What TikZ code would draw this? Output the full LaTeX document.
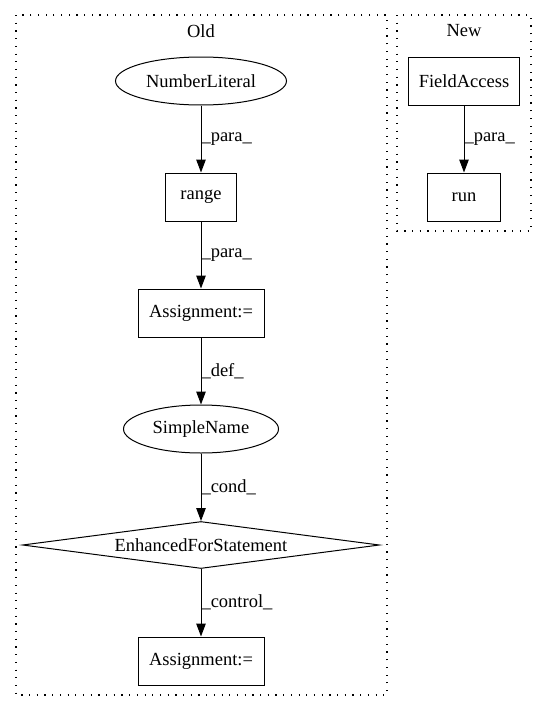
\documentclass[tikz,border=0pt]{standalone}
\usepackage{fontspec}
\setmainfont{Liberation Serif}
\usetikzlibrary{shapes.geometric,arrows.meta}
\begin{document}
\begin{tikzpicture}[x=1pt,y=-1pt,
  every node/.style={font=\fontsize{18.5}{22}\selectfont, inner sep=0pt},
  boxnode/.style={draw, line width=1pt, rectangle, minimum height=48pt},
  ellnode/.style={draw, line width=1pt, ellipse, minimum height=48pt},
  dianode/.style={draw, line width=1pt, diamond, shape aspect=7.6, minimum width=357pt, minimum height=47pt},
  cluster/.style={line width=1.2pt, dash pattern=on 1.2pt off 6.5pt},
  edge/.style={line width=1pt, -{Triangle[length=13pt,width=9.5pt]}},
  elabel/.style={anchor=west, font=\fontsize{18.5}{22}\selectfont}
]
\useasboundingbox (0,0) rectangle (547,712);
% clusters
\draw[cluster] (16,15) rectangle (387,695);
\draw[cluster] (397,15) rectangle (531,231);
\node (oldlbl) at (201,31) {Old};
\node (newlbl) at (464,31) {New};
% Old nodes
\node[ellnode, minimum width=171pt] (nl) at (201,81) {NumberLiteral};
\node[boxnode, minimum width=71pt] (rg) at (201,197) {range};
\node[boxnode, minimum width=126pt] (as1) at (201,313) {Assignment:=};
\node[ellnode, minimum width=155pt] (sn) at (201,429) {SimpleName};
\node[dianode] (efs) at (201,545) {EnhancedForStatement};
\node[boxnode, minimum width=126pt] (as2) at (201,661) {Assignment:=};
% New nodes
\node[boxnode, minimum width=111pt] (fa) at (464,81) {FieldAccess};
\node[boxnode, minimum width=73pt] (run) at (464,197) {run};
% edges
\draw[edge] (nl) -- node[elabel, pos=0.5] (l1) {\_para\_} (rg);
\draw[edge] (rg) -- node[elabel, pos=0.5] (l2) {\_para\_} (as1);
\draw[edge] (as1) -- node[elabel, pos=0.5] (l3) {\_def\_} (sn);
\draw[edge] (sn) -- node[elabel, pos=0.5] (l4) {\_cond\_} (efs);
\draw[edge] (efs) -- node[elabel, pos=0.5] (l5) {\_control\_} (as2);
\draw[edge] (fa) -- node[elabel, pos=0.5] (l6) {\_para\_} (run);
\end{tikzpicture}
\end{document}
